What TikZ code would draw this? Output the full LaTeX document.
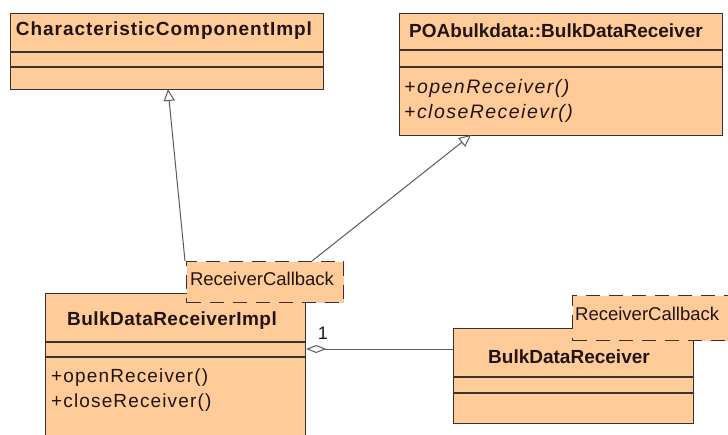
\documentclass[tikz,border=0pt]{standalone}
\usepackage{fontspec}
\setmainfont{Liberation Sans}
\usetikzlibrary{arrows.meta}
\definecolor{peach}{RGB}{255,204,153}
\definecolor{edgec}{RGB}{60,50,45}
\definecolor{ink}{RGB}{35,20,20}
\definecolor{conn}{RGB}{90,90,90}
\begin{document}
\begin{tikzpicture}[x=1pt,y=-1pt,
  cls/.style={draw=edgec, fill=peach, line width=1.2pt, rectangle, inner sep=0pt, anchor=north west},
  notebox/.style={draw=edgec, fill=peach, line width=1.3pt, dash pattern=on 14pt off 9pt, rectangle, inner sep=0pt, anchor=north west},
  divider/.style={draw=edgec, line width=1.2pt},
  title/.style={font=\bfseries\fontsize{19}{22}\selectfont, text=ink, inner sep=0pt},
  meth/.style={font=\fontsize{19}{22}\selectfont\addfontfeature{LetterSpace=6}, text=ink, anchor=west, inner sep=0pt},
  imeth/.style={meth, font=\itshape\fontsize{19.5}{22}\selectfont\addfontfeature{LetterSpace=7.5}},
  notetext/.style={font=\fontsize{18.5}{22}\selectfont, text=ink, inner sep=0pt},
  gen/.style={draw=conn, line width=1pt, -{Triangle[open, length=12pt, width=11pt]}},
  agg/.style={draw=conn, line width=1pt, {Diamond[open, length=20pt, width=8pt]}-}
]
\useasboundingbox (0,0) rectangle (728,434);
\clip (0,0) rectangle (728,434);
\fill[white] (0,0) rectangle (728,434);

% CharacteristicComponentImpl
\node[cls, minimum width=313pt, minimum height=76pt] (c1) at (10,13) {};
\draw[divider] (c1.west |- 0,52) -- (c1.east |- 0,52);
\draw[divider] (c1.west |- 0,67) -- (c1.east |- 0,67);
\node[title, font=\bfseries\fontsize{19}{22}\selectfont\addfontfeature{LetterSpace=5}] (t1) at (164,31) {CharacteristicComponentImpl};

% POAbulkdata::BulkDataReceiver
\node[cls, minimum width=323pt, minimum height=122pt] (c2) at (399,13) {};
\draw[divider] (c2.west |- 0,50) -- (c2.east |- 0,50);
\draw[divider] (c2.west |- 0,67) -- (c2.east |- 0,67);
\node[title] (t2) at (556,31) {POAbulkdata::BulkDataReceiver};
\node[imeth] (m21) at (404,88) {+openReceiver()};
\node[imeth] (m22) at (404,113) {+closeReceievr()};

% BulkDataReceiverImpl
\node[cls, minimum width=260pt, minimum height=160pt] (c3) at (45,293) {};
\draw[divider] (c3.west |- 0,342) -- (c3.east |- 0,342);
\draw[divider] (c3.west |- 0,357) -- (c3.east |- 0,357);
\node[title, font=\bfseries\fontsize{19}{22}\selectfont\addfontfeature{LetterSpace=2.5}] (t3) at (172,321) {BulkDataReceiverImpl};
\node[meth] (m31) at (51,378) {+openReceiver()};
\node[meth] (m32) at (51,403) {+closeReceiver()};

% note on BulkDataReceiverImpl
\node[notebox, minimum width=157pt, minimum height=41pt] (n1) at (186,261) {};
\node[notetext] (nt1) at (262,279) {ReceiverCallback};

% BulkDataReceiver
\node[cls, minimum width=240pt, minimum height=95pt] (c4) at (453,328) {};
\draw[divider] (c4.west |- 0,377) -- (c4.east |- 0,377);
\draw[divider] (c4.west |- 0,393) -- (c4.east |- 0,393);
\node[title] (t4) at (569,357) {BulkDataReceiver};

% note on BulkDataReceiver
\node[notebox, minimum width=175pt, minimum height=45pt] (n2) at (572,295) {};
\node[notetext, anchor=west] (nt2) at (575,314) {ReceiverCallback};

% generalizations
\coordinate (g1s) at (185,261);
\coordinate (g1e) at (168,89);
\draw[gen] (g1s) -- (g1e);
\coordinate (g2s) at (312,261);
\coordinate (g2e) at (471,135);
\draw[gen] (g2s) -- (g2e);

% aggregation
\draw[agg] (c3.east |- 0,349) -- (c4.west |- 0,349);
\node[font=\fontsize{18}{20}\selectfont, text=ink, inner sep=0pt] (mult) at (323,333) {1};
\end{tikzpicture}
\end{document}
